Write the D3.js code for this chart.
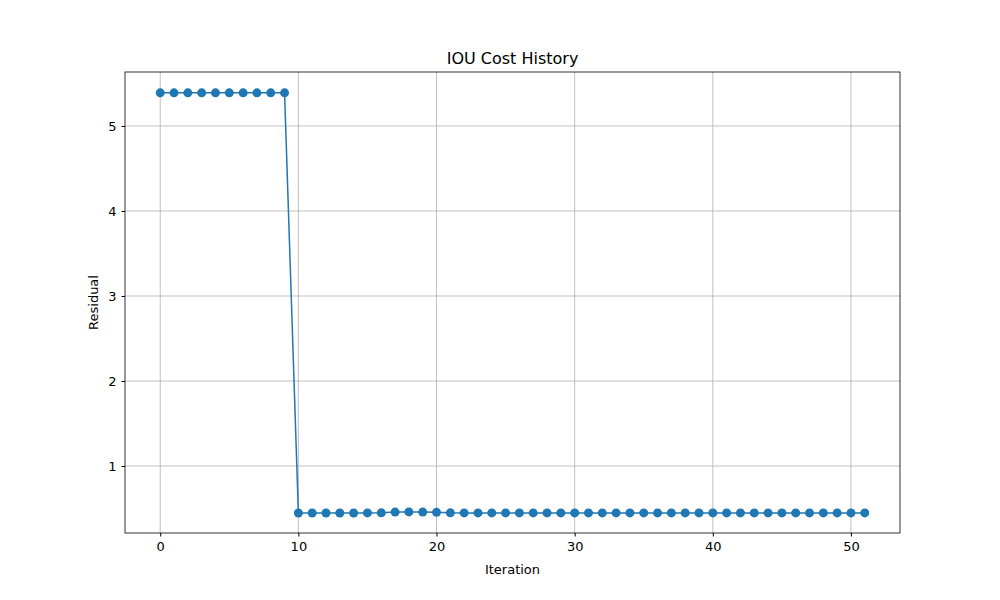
<!DOCTYPE html>
<html><head><meta charset="utf-8">
<script src="https://cdn.jsdelivr.net/npm/d3@7"></script>
<style>body{margin:0;background:#fff;font-family:"DejaVu Sans",sans-serif;}</style>
</head><body><div id="chart"></div>
<script>
var residuals = [5.39,5.39,5.39,5.39,5.39,5.39,5.39,5.39,5.39,5.39,
  0.447,0.447,0.447,0.447,0.447,0.448,0.449,0.458,0.460,0.458,0.455,
  0.449,0.448,0.448,0.448,0.448,0.448,0.448,0.448,0.448,0.448,0.448,0.448,0.448,0.448,0.448,
  0.448,0.448,0.448,0.448,0.448,0.448,0.448,0.448,0.448,0.448,0.448,0.448,0.448,0.448,0.448,0.448];
var xTicks = [0,10,20,30,40,50];
var yTicks = [1,2,3,4,5];

var width = 1000, height = 600;
var m = {left:125, right:100, top:72, bottom:67};
var svg = d3.select('#chart').append('svg').attr('width', width).attr('height', height);

var x = d3.scaleLinear().domain([-2.55, 53.55]).range([m.left, width - m.right]);
var y = d3.scaleLinear().domain([0.212, 5.635]).range([height - m.bottom, m.top]);

// grid
svg.append('g').selectAll('line').data(xTicks).enter().append('line')
  .attr('x1', d => x(d)).attr('x2', d => x(d)).attr('y1', m.top).attr('y2', height - m.bottom)
  .attr('stroke', '#b0b0b0').attr('stroke-width', 0.8);
svg.append('g').selectAll('line').data(yTicks).enter().append('line')
  .attr('y1', d => y(d)).attr('y2', d => y(d)).attr('x1', m.left).attr('x2', width - m.right)
  .attr('stroke', '#b0b0b0').attr('stroke-width', 0.8);

var xAxis = svg.append('g').attr('transform', `translate(0,${height - m.bottom})`)
  .call(d3.axisBottom(x).tickValues(xTicks).tickFormat(d3.format('d')).tickSize(3.5).tickPadding(5));
var yAxis = svg.append('g').attr('transform', `translate(${m.left},0)`)
  .call(d3.axisLeft(y).tickValues(yTicks).tickFormat(d3.format('d')).tickSize(3.5).tickPadding(5));
[xAxis, yAxis].forEach(a => {
  a.select('.domain').remove();
  a.selectAll('text').attr('font-size', 13).attr('font-family', 'DejaVu Sans').attr('fill', '#000');
});

svg.append('rect').attr('x', m.left).attr('y', m.top)
  .attr('width', width - m.left - m.right).attr('height', height - m.top - m.bottom)
  .attr('fill', 'none').attr('stroke', '#000').attr('stroke-width', 0.8);

var line = d3.line().x((d, i) => x(i)).y(d => y(d));
svg.append('path').datum(residuals).attr('d', line)
  .attr('fill', 'none').attr('stroke', '#1f77b4').attr('stroke-width', 1.5);
svg.append('g').selectAll('circle').data(residuals).enter().append('circle')
  .attr('cx', (d, i) => x(i)).attr('cy', d => y(d)).attr('r', 4.5).attr('fill', '#1f77b4');

svg.append('text').text('IOU Cost History').attr('x', (m.left + width - m.right) / 2).attr('y', 64)
  .attr('text-anchor', 'middle').attr('font-size', 16);
svg.append('text').text('Iteration').attr('x', (m.left + width - m.right) / 2).attr('y', 574)
  .attr('text-anchor', 'middle').attr('font-size', 13);
svg.append('text').text('Residual').attr('transform', `translate(98,${(m.top + height - m.bottom) / 2})rotate(-90)`)
  .attr('text-anchor', 'middle').attr('font-size', 13);
</script></body></html>
